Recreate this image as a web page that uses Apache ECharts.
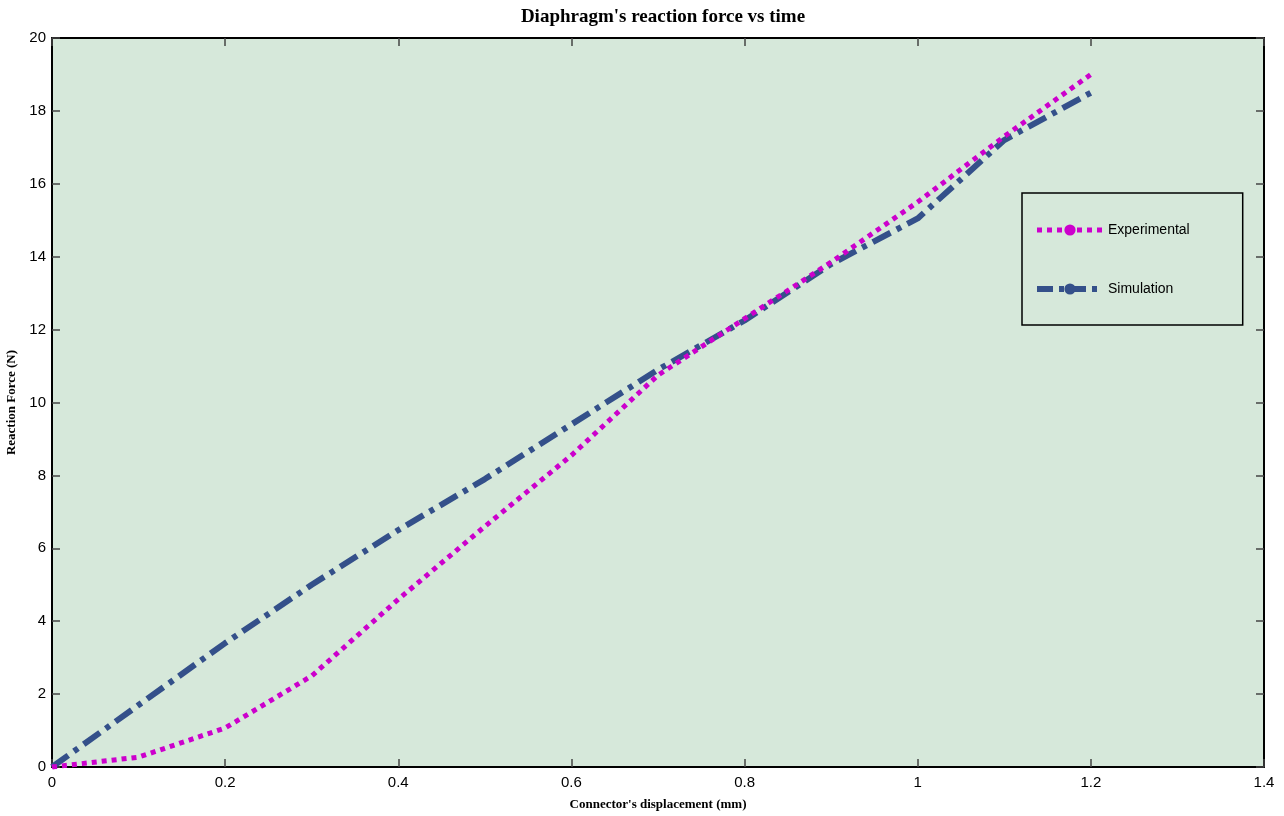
<!DOCTYPE html>
<html>
<head>
    <meta charset="UTF-8">
    <title>Diaphragm's reaction force vs time</title>
    <script src="https://cdn.jsdelivr.net/npm/echarts@6/dist/echarts.min.js"></script>
</head>
<style type="text/css">
    html, body { margin: 0; padding: 0; background: #fff; }
</style>
<body>
<div id="main" style="width: 1284px;height:816px;"></div>
<script type="text/javascript">
    // displacement (mm)
    var displacement = [0, 0.1, 0.2, 0.3, 0.4, 0.5, 0.6, 0.7, 0.8, 0.9, 1.0, 1.1, 1.2];
    // reaction force (N)
    var experimental = [0, 0.27, 1.07, 2.5, 4.6, 6.6, 8.55, 10.75, 12.3, 13.85, 15.5, 17.3, 19.0];
    var simulation = [0, 1.7, 3.4, 5.0, 6.5, 7.9, 9.4, 10.9, 12.25, 13.8, 15.05, 17.2, 18.5];

    function pairs(xs, ys) {
        return xs.map(function (x, i) { return [x, ys[i]]; });
    }

    var myChart = echarts.init(document.getElementById('main'));
    var tick = {show: true, inside: true, length: 8, lineStyle: {color: '#444', width: 1.5}};
    var frame = {show: true, onZero: false, lineStyle: {color: '#000', width: 2}};
    var option = {
        backgroundColor: '#ffffff',
        title: {
            text: "Diaphragm's reaction force vs time",
            left: 658,
            textAlign: 'center',
            top: 3,
            textStyle: {fontFamily: 'Liberation Serif', fontWeight: 'bold', fontSize: 19, color: '#000'}
        },
        grid: {
            left: 52, right: 20, top: 38, bottom: 49,
            outerBoundsMode: 'none',
            show: true, backgroundColor: '#d6e8da', borderWidth: 0
        },
        legend: {
            orient: 'vertical',
            left: 1022,
            top: 193,
            padding: [30, 53, 29, 12],
            itemGap: 45,
            itemWidth: 66,
            itemHeight: 14,
            borderColor: '#000',
            borderWidth: 1.5,
            textStyle: {fontFamily: 'Liberation Sans', fontSize: 14, color: '#000'},
            data: [
                {name: 'Experimental', lineStyle: {width: 5, type: [5, 5]}},
                {name: 'Simulation', lineStyle: {width: 6, type: [16, 6, 5, 6]}}
            ]
        },
        xAxis: [{
            type: 'value', min: 0, max: 1.4, interval: 0.2,
            name: "Connector's displacement (mm)", nameLocation: 'middle', nameGap: 31,
            nameTextStyle: {fontFamily: 'Liberation Serif', fontWeight: 'bold', fontSize: 13, color: '#000'},
            axisLine: frame,
            axisTick: tick,
            axisLabel: {fontFamily: 'Liberation Sans', fontSize: 15, color: '#000', margin: 8},
            splitLine: {show: false}
        }, {
            type: 'value', min: 0, max: 1.4, interval: 0.2, position: 'top',
            axisLine: frame,
            axisTick: tick, axisLabel: {show: false}, splitLine: {show: false}
        }],
        yAxis: [{
            type: 'value', min: 0, max: 20, interval: 2,
            name: 'Reaction Force (N)', nameLocation: 'middle', nameGap: 29,
            nameTextStyle: {fontFamily: 'Liberation Serif', fontWeight: 'bold', fontSize: 13, color: '#000'},
            axisLine: frame,
            axisTick: tick,
            axisLabel: {fontFamily: 'Liberation Sans', fontSize: 15, color: '#000', margin: 6},
            splitLine: {show: false}
        }, {
            type: 'value', min: 0, max: 20, interval: 2, position: 'right',
            axisLine: frame,
            axisTick: tick, axisLabel: {show: false}, splitLine: {show: false}
        }],
        series: [{
            name: 'Experimental',
            type: 'line',
            data: pairs(displacement, experimental),
            showSymbol: false,
            symbol: 'circle',
            symbolSize: 7,
            itemStyle: {color: '#cc00cc'},
            lineStyle: {color: '#cc00cc', width: 5, type: [5, 5]},
            z: 3
        }, {
            name: 'Simulation',
            type: 'line',
            data: pairs(displacement, simulation),
            showSymbol: false,
            symbol: 'circle',
            symbolSize: 7,
            itemStyle: {color: '#34508a'},
            lineStyle: {color: '#34508a', width: 6, type: [20, 7, 5, 7]},
            z: 2
        }]
    };
    myChart.setOption(option);
</script>
</body>
</html>
